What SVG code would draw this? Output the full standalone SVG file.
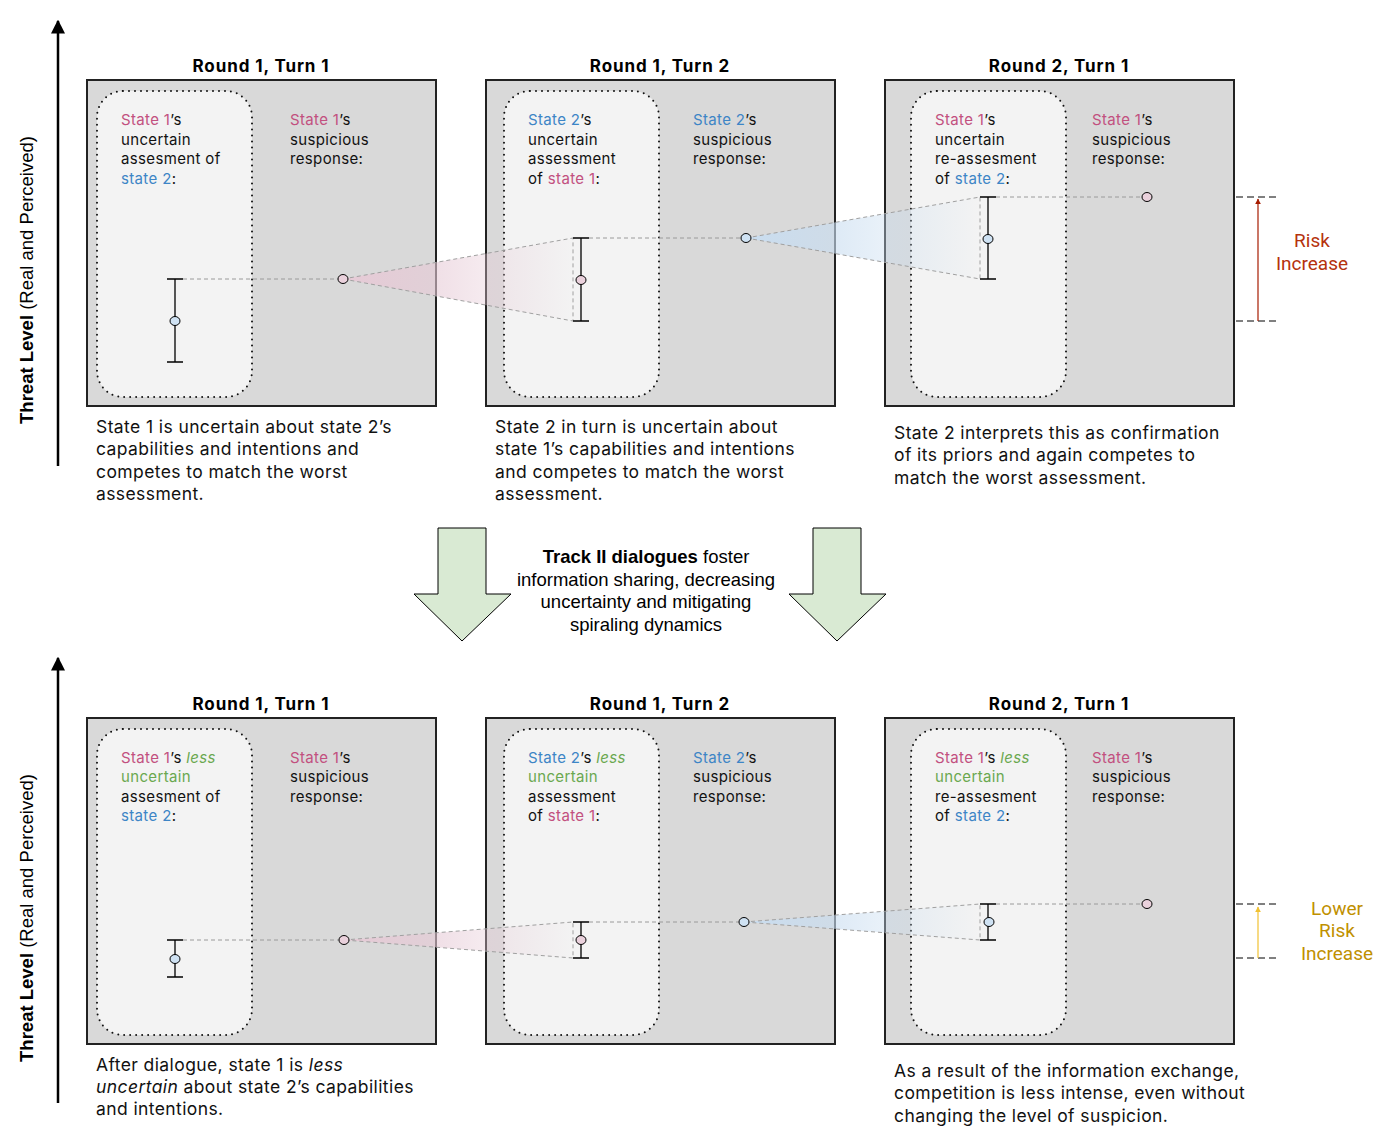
<svg xmlns="http://www.w3.org/2000/svg" width="1390" height="1141" viewBox="0 0 1390 1141">
<defs>
<style>
.panel{fill:#d9d9d9;stroke:#222;stroke-width:2}
.inner{fill:#f3f3f3;stroke:#111;stroke-width:2;stroke-dasharray:0 6;stroke-linecap:round}
.t{font-family:Inter,"Noto Sans",sans-serif;font-size:15px;letter-spacing:0.35px;fill:#111}
.cap{font-family:Inter,"Noto Sans",sans-serif;font-size:17.5px;letter-spacing:0.4px;fill:#111}
.title{font-family:Inter,"Noto Sans",sans-serif;font-size:17px;letter-spacing:0.9px;font-weight:bold;fill:#000;text-anchor:middle}
.s1{fill:#c2507f}
.s2{fill:#3d85c6}
.g{fill:#6aa84f}
.dash{stroke:#9a9a9a;stroke-width:1;stroke-dasharray:4 3;fill:none}
.bar{stroke:#000;stroke-width:1.3;fill:none}
.cb{fill:#cfe2f3;stroke:#000;stroke-width:1}
.cp{fill:#ead1dc;stroke:#000;stroke-width:1}
.cone{stroke:#a0a0a0;stroke-width:1;stroke-dasharray:4 3}
.bk{stroke:#000;stroke-width:1;stroke-dasharray:7 4;fill:none}
.axis{font-family:"Liberation Sans",Arial,sans-serif;font-size:18.5px;fill:#000}
.mid{font-family:"Liberation Sans",Arial,sans-serif;font-size:18.5px;fill:#000;text-anchor:middle}
.risk{font-family:Roboto,"Liberation Sans",sans-serif;font-size:19px;text-anchor:middle}
</style>
<linearGradient id="gp" x1="0" y1="0" x2="1" y2="0">
<stop offset="0" stop-color="#e6cad6" stop-opacity="1"/>
<stop offset="1" stop-color="#e6cad6" stop-opacity="0"/>
</linearGradient>
<linearGradient id="gb" x1="0" y1="0" x2="1" y2="0">
<stop offset="0" stop-color="#c9ddf0" stop-opacity="1"/>
<stop offset="1" stop-color="#c9ddf0" stop-opacity="0"/>
</linearGradient>
<marker id="ah" viewBox="0 0 10 10" refX="9" refY="5" markerWidth="14" markerHeight="14" markerUnits="userSpaceOnUse" orient="auto">
<path d="M0,0 L10,5 L0,10 z" fill="#000"/>
</marker>
<marker id="ahr" viewBox="0 0 10 10" refX="9" refY="5" markerWidth="6" markerHeight="6" markerUnits="userSpaceOnUse" orient="auto">
<path d="M0,0 L10,5 L0,10 z" fill="#a61c00"/>
</marker>
<marker id="ahy" viewBox="0 0 10 10" refX="9" refY="5" markerWidth="6" markerHeight="6" markerUnits="userSpaceOnUse" orient="auto">
<path d="M0,0 L10,5 L0,10 z" fill="#f1c232"/>
</marker>
</defs>
<rect width="1390" height="1141" fill="#fff"/>

<!-- Axes -->
<g id="axis-top">
<line x1="58" y1="466" x2="58" y2="21" stroke="#000" stroke-width="2.5" marker-end="url(#ah)"/>
<text class="axis" transform="translate(33,280) rotate(-90)" text-anchor="middle"><tspan font-weight="bold">Threat Level</tspan> (Real and Perceived)</text>
</g>
<g id="axis-bottom">
<line x1="58" y1="1103" x2="58" y2="658" stroke="#000" stroke-width="2.5" marker-end="url(#ah)"/>
<text class="axis" transform="translate(33,918) rotate(-90)" text-anchor="middle"><tspan font-weight="bold">Threat Level</tspan> (Real and Perceived)</text>
</g>

<!-- Top row panels -->
<g id="top-p1">
<text class="title" x="261" y="72">Round 1, Turn 1</text>
<rect class="panel" x="87" y="80" width="349" height="326"/>
<rect class="inner" x="97" y="91" width="155" height="306" rx="26"/>
<text class="t" x="121" y="125"><tspan class="s1">State 1</tspan>’s</text>
<text class="t" x="121" y="145">uncertain</text>
<text class="t" x="121" y="164">assesment of</text>
<text class="t" x="121" y="184"><tspan class="s2">state 2</tspan>:</text>
<text class="t" x="290" y="125"><tspan class="s1">State 1</tspan>’s</text>
<text class="t" x="290" y="145">suspicious</text>
<text class="t" x="290" y="164">response:</text>
</g>
<g id="top-p2">
<text class="title" x="660" y="72">Round 1, Turn 2</text>
<rect class="panel" x="486" y="80" width="349" height="326"/>
<rect class="inner" x="504" y="91" width="155" height="306" rx="26"/>
<text class="t" x="528" y="125"><tspan class="s2">State 2</tspan>’s</text>
<text class="t" x="528" y="145">uncertain</text>
<text class="t" x="528" y="164">assessment</text>
<text class="t" x="528" y="184">of <tspan class="s1">state 1</tspan>:</text>
<text class="t" x="693" y="125"><tspan class="s2">State 2</tspan>’s</text>
<text class="t" x="693" y="145">suspicious</text>
<text class="t" x="693" y="164">response:</text>
</g>
<g id="top-p3">
<text class="title" x="1059" y="72">Round 2, Turn 1</text>
<rect class="panel" x="885" y="80" width="349" height="326"/>
<rect class="inner" x="911" y="91" width="155" height="306" rx="26"/>
<text class="t" x="935" y="125"><tspan class="s1">State 1</tspan>’s</text>
<text class="t" x="935" y="145">uncertain</text>
<text class="t" x="935" y="164">re-assesment</text>
<text class="t" x="935" y="184">of <tspan class="s2">state 2</tspan>:</text>
<text class="t" x="1092" y="125"><tspan class="s1">State 1</tspan>’s</text>
<text class="t" x="1092" y="145">suspicious</text>
<text class="t" x="1092" y="164">response:</text>
</g>

<!-- Bottom row panels -->
<g id="bot-p1">
<text class="title" x="261" y="710">Round 1, Turn 1</text>
<rect class="panel" x="87" y="718" width="349" height="326"/>
<rect class="inner" x="97" y="729" width="155" height="306" rx="26"/>
<text class="t" x="121" y="763"><tspan class="s1">State 1</tspan>’s <tspan class="g" font-style="italic">less</tspan></text>
<text class="t" x="121" y="782"><tspan class="g">uncertain</tspan></text>
<text class="t" x="121" y="802">assesment of</text>
<text class="t" x="121" y="821"><tspan class="s2">state 2</tspan>:</text>
<text class="t" x="290" y="763"><tspan class="s1">State 1</tspan>’s</text>
<text class="t" x="290" y="782">suspicious</text>
<text class="t" x="290" y="802">response:</text>
</g>
<g id="bot-p2">
<text class="title" x="660" y="710">Round 1, Turn 2</text>
<rect class="panel" x="486" y="718" width="349" height="326"/>
<rect class="inner" x="504" y="729" width="155" height="306" rx="26"/>
<text class="t" x="528" y="763"><tspan class="s2">State 2</tspan>’s <tspan class="g" font-style="italic">less</tspan></text>
<text class="t" x="528" y="782"><tspan class="g">uncertain</tspan></text>
<text class="t" x="528" y="802">assessment</text>
<text class="t" x="528" y="821">of <tspan class="s1">state 1</tspan>:</text>
<text class="t" x="693" y="763"><tspan class="s2">State 2</tspan>’s</text>
<text class="t" x="693" y="782">suspicious</text>
<text class="t" x="693" y="802">response:</text>
</g>
<g id="bot-p3">
<text class="title" x="1059" y="710">Round 2, Turn 1</text>
<rect class="panel" x="885" y="718" width="349" height="326"/>
<rect class="inner" x="911" y="729" width="155" height="306" rx="26"/>
<text class="t" x="935" y="763"><tspan class="s1">State 1</tspan>’s <tspan class="g" font-style="italic">less</tspan></text>
<text class="t" x="935" y="782"><tspan class="g">uncertain</tspan></text>
<text class="t" x="935" y="802">re-assesment</text>
<text class="t" x="935" y="821">of <tspan class="s2">state 2</tspan>:</text>
<text class="t" x="1092" y="763"><tspan class="s1">State 1</tspan>’s</text>
<text class="t" x="1092" y="782">suspicious</text>
<text class="t" x="1092" y="802">response:</text>
</g>

<!-- Connectors / plots -->
<g id="connectors">
<!-- top row -->
<polygon class="cone" points="343,279 573,238 573,321" fill="url(#gp)"/>
<polygon class="cone" points="746,238 980,197 980,279" fill="url(#gb)"/>
<line class="dash" x1="183" y1="279" x2="338" y2="279"/>
<line class="dash" x1="589" y1="238" x2="741" y2="238"/>
<line class="dash" x1="996" y1="197" x2="1142" y2="197"/>
<path class="bar" d="M167,279 H183 M175,279 V362 M167,362 H183"/>
<ellipse class="cb" cx="175" cy="321" rx="5" ry="4.5"/>
<ellipse class="cp" cx="343" cy="279" rx="5" ry="4.5"/>
<path class="bar" d="M573,238 H589 M581,238 V321 M573,321 H589"/>
<ellipse class="cp" cx="581" cy="280" rx="5" ry="4.5"/>
<ellipse class="cb" cx="746" cy="238" rx="5" ry="4.5"/>
<path class="bar" d="M980,197 H996 M988,197 V279 M980,279 H996"/>
<ellipse class="cb" cx="988" cy="239" rx="5" ry="4.5"/>
<ellipse class="cp" cx="1147" cy="197" rx="5" ry="4.5"/>
<!-- bottom row -->
<polygon class="cone" points="344,940 573,922 573,958" fill="url(#gp)"/>
<polygon class="cone" points="744,922 980,904 980,940" fill="url(#gb)"/>
<line class="dash" x1="183" y1="940" x2="339" y2="940"/>
<line class="dash" x1="589" y1="922" x2="739" y2="922"/>
<line class="dash" x1="996" y1="904" x2="1142" y2="904"/>
<path class="bar" d="M167,940 H183 M175,940 V977 M167,977 H183"/>
<ellipse class="cb" cx="175" cy="959" rx="5" ry="4.5"/>
<ellipse class="cp" cx="344" cy="940" rx="5" ry="4.5"/>
<path class="bar" d="M573,922 H589 M581,922 V958 M573,958 H589"/>
<ellipse class="cp" cx="581" cy="940" rx="5" ry="4.5"/>
<ellipse class="cb" cx="744" cy="922" rx="5" ry="4.5"/>
<path class="bar" d="M980,904 H996 M988,904 V940 M980,940 H996"/>
<ellipse class="cb" cx="989" cy="922" rx="5" ry="4.5"/>
<ellipse class="cp" cx="1147" cy="904" rx="5" ry="4.5"/>
<!-- risk markers -->
<line class="bk" x1="1236" y1="197" x2="1277" y2="197"/>
<line class="bk" x1="1236" y1="321" x2="1277" y2="321"/>
<line x1="1258" y1="321" x2="1258" y2="199" stroke="#a61c00" stroke-width="1.2" marker-end="url(#ahr)"/>
<line class="bk" x1="1236" y1="904" x2="1277" y2="904"/>
<line class="bk" x1="1236" y1="958" x2="1277" y2="958"/>
<line x1="1258" y1="958" x2="1258" y2="907" stroke="#f1c232" stroke-width="1.2" marker-end="url(#ahy)"/>
</g>

<g id="risk-labels">
<text class="risk" x="1312" y="247" fill="#b5320d">Risk</text>
<text class="risk" x="1312" y="270" fill="#b5320d">Increase</text>
<text class="risk" x="1337" y="915" fill="#bf9000">Lower</text>
<text class="risk" x="1337" y="937" fill="#bf9000">Risk</text>
<text class="risk" x="1337" y="960" fill="#bf9000">Increase</text>
</g>

<!-- Captions -->
<g id="captions">
<text class="cap" x="96" y="433">State 1 is uncertain about state 2’s</text>
<text class="cap" x="96" y="455">capabilities and intentions and</text>
<text class="cap" x="96" y="478">competes to match the worst</text>
<text class="cap" x="96" y="500">assessment.</text>
<text class="cap" x="495" y="433">State 2 in turn is uncertain about</text>
<text class="cap" x="495" y="455">state 1’s capabilities and intentions</text>
<text class="cap" x="495" y="478">and competes to match the worst</text>
<text class="cap" x="495" y="500">assessment.</text>
<text class="cap" x="894" y="439">State 2 interprets this as confirmation</text>
<text class="cap" x="894" y="461">of its priors and again competes to</text>
<text class="cap" x="894" y="484">match the worst assessment.</text>
<text class="cap" x="96" y="1071">After dialogue, state 1 is <tspan font-style="italic">less</tspan></text>
<text class="cap" x="96" y="1093"><tspan font-style="italic">uncertain</tspan> about state 2’s capabilities</text>
<text class="cap" x="96" y="1115">and intentions.</text>
<text class="cap" x="894" y="1077">As a result of the information exchange,</text>
<text class="cap" x="894" y="1099">competition is less intense, even without</text>
<text class="cap" x="894" y="1122">changing the level of suspicion.</text>
</g>

<!-- Track II -->
<g id="arrow-left">
<path d="M438,528 H486 V594 H511 L462,641 L414,594 H438 Z" fill="#d9ead3" stroke="#000" stroke-width="1"/>
</g>
<g id="arrow-right">
<path d="M813,528 H861 V594 H886 L837,641 L789,594 H813 Z" fill="#d9ead3" stroke="#000" stroke-width="1"/>
</g>
<g id="track-text">
<text class="mid" x="646" y="563"><tspan font-weight="bold">Track II dialogues</tspan> foster</text>
<text class="mid" x="646" y="586">information sharing, decreasing</text>
<text class="mid" x="646" y="608">uncertainty and mitigating</text>
<text class="mid" x="646" y="631">spiraling dynamics</text>
</g>
</svg>
